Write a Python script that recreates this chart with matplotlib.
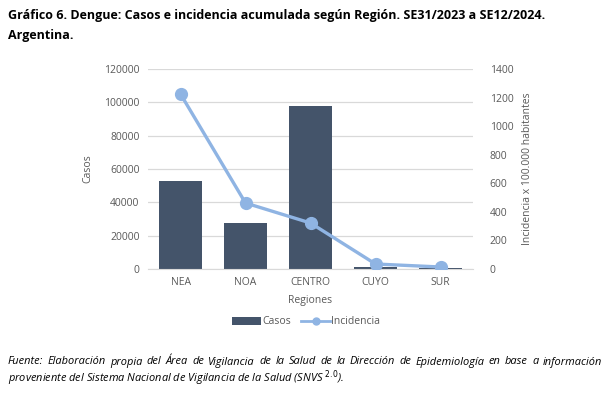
import matplotlib.pyplot as plt
from matplotlib.lines import Line2D
import numpy as np

# data
regiones = ['NEA', 'NOA', 'CENTRO', 'CUYO', 'SUR']
casos = [53000, 27500, 98000, 1100, 400]
incidencia = [1225, 462, 322, 35, 14]

BAR_COLOR = '#44546A'
LINE_COLOR = '#8FB4E3'
TEXT_COLOR = '#595959'
GRID_COLOR = '#D9D9D9'

plt.rcParams['font.family'] = ['Open Sans', 'DejaVu Sans']

fig = plt.figure(figsize=(6.12, 3.94), dpi=100)
ax = fig.add_axes([148 / 612, 1 - 269 / 394, 325 / 612, 200 / 394])

x = np.arange(len(regiones))
bars = ax.bar(x, casos, width=0.65, color=BAR_COLOR, zorder=2, label='Casos')
ax.set_xlim(-0.5, len(regiones) - 0.5)
ax.set_ylim(0, 120000)
ax.set_yticks(np.arange(0, 120001, 20000))
ax.grid(axis='y', color=GRID_COLOR, linewidth=0.9, zorder=0)
ax.set_xticks(x)
ax.set_xticklabels(regiones)
for s in ['top', 'right', 'left']:
    ax.spines[s].set_visible(False)
ax.spines['bottom'].set_color(GRID_COLOR)
ax.tick_params(length=0, colors=TEXT_COLOR, labelsize=7.5, pad=6)
ax.set_ylabel('Casos', color=TEXT_COLOR, fontsize=7.5, labelpad=8)
ax.set_xlabel('Regiones', color=TEXT_COLOR, fontsize=7.5, labelpad=5)

ax2 = ax.twinx()
line, = ax2.plot(x, incidencia, color=LINE_COLOR, linewidth=2.4, marker='o',
                 markersize=8.5, zorder=3, label='Incidencia')
ax2.set_ylim(0, 1400)
ax2.set_yticks(np.arange(0, 1401, 200))
for s in ['top', 'right', 'left', 'bottom']:
    ax2.spines[s].set_visible(False)
ax2.tick_params(length=0, colors=TEXT_COLOR, labelsize=7.5, pad=12)
ax2.set_ylabel('Incidencia x 100.000 habitantes', color=TEXT_COLOR, fontsize=7.5, labelpad=6)

# legend proxy with smaller marker, as in the reference
line_proxy = Line2D([], [], color=LINE_COLOR, linewidth=2, marker='o', markersize=5)
fig.legend([bars, line_proxy], ['Casos', 'Incidencia'], loc='center',
           bbox_to_anchor=(306 / 612, 1 - 322 / 394),
           ncol=2, frameon=False, fontsize=7.5, handlelength=2.8, handletextpad=0.1,
           columnspacing=1.0, labelcolor=TEXT_COLOR)

fig.text(8 / 612, 1 - 16 / 394,
         'Gráfico 6. Dengue: Casos e incidencia acumulada según Región. SE31/2023 a SE12/2024.',
         fontsize=9, fontweight='bold', ha='left', va='center', color='black')
fig.text(8 / 612, 1 - 35 / 394, 'Argentina.', fontsize=9, fontweight='bold',
         ha='left', va='center', color='black')

# footer: first line justified between x=8 and x=602
FOOT_SIZE = 7.9
renderer = fig.canvas.get_renderer()
line1 = ('Fuente: Elaboración propia del Área de Vigilancia de la Salud de la Dirección '
         'de Epidemiología en base a información').split()
widths = []
texts = []
for w in line1:
    t = fig.text(0, 1 - 362 / 394, w, fontsize=FOOT_SIZE, style='italic', ha='left',
                 va='center', color='black')
    widths.append(t.get_window_extent(renderer).width)
    texts.append(t)
gap = (594 - sum(widths)) / (len(line1) - 1)
xpos = 8
for t, wd in zip(texts, widths):
    t.set_x(xpos / 612)
    xpos += wd + gap

fig.text(8 / 612, 1 - 378 / 394,
         'proveniente del Sistema Nacional de Vigilancia de la Salud (SNVS $^{2.0}$).',
         fontsize=FOOT_SIZE, style='italic', ha='left', va='center', color='black')

fig.savefig('out.png', dpi=100)
